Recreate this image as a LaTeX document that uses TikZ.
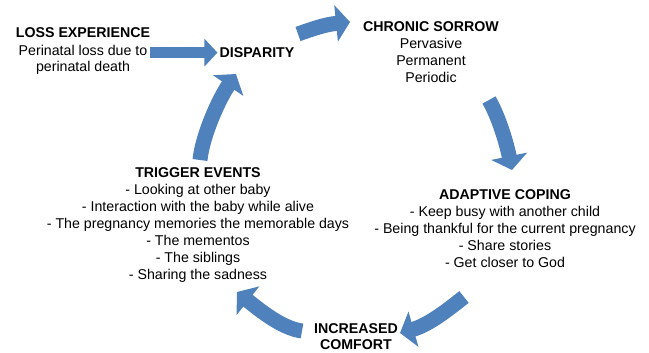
\documentclass[tikz,border=0pt]{standalone}
\usepackage{fontspec}
\setmainfont{Liberation Sans}
\usetikzlibrary{arrows.meta,positioning}
\definecolor{cycleblue}{RGB}{79,129,189}
\tikzset{
  txt/.style={align=center, inner sep=0pt, font=\fontsize{14.2}{17}\selectfont},
  flow/.style={draw=cycleblue, line width=15pt, -{Triangle[width=36pt,length=14pt]}},
}
\begin{document}
\begin{tikzpicture}[x=1pt,y=-1pt]
  \useasboundingbox (0,0) rectangle (649,353);
  \node[txt, anchor=base] (loss) at (83,72) {\textbf{LOSS EXPERIENCE}\\Perinatal loss due to\\perinatal death};
  \node[txt, anchor=base] (disp) at (257,57.5) {\textbf{DISPARITY}};
  \node[txt, anchor=base] (chron) at (431,82.5) {\textbf{CHRONIC SORROW}\\Pervasive\\Permanent\\Periodic};
  \node[txt, anchor=base] (adapt) at (505,267.5) {\textbf{ADAPTIVE COPING}\\- Keep busy with another child\\- Being thankful for the current pregnancy\\- Share stories\\- Get closer to God};
  \node[txt, anchor=base, font=\fontsize{14.2}{16}\selectfont] (comf) at (356,349.5) {\textbf{INCREASED}\\\textbf{COMFORT}};
  \node[txt, anchor=base] (trig) at (198,279.5) {\textbf{TRIGGER EVENTS}\\- Looking at other baby\\- Interaction with the baby while alive\\- The pregnancy memories the memorable days\\- The mementos\\- The siblings\\- Sharing the sadness};

  \coordinate (disp-out) at (298,34);
  \coordinate (chron-in) at (350,22);
  \coordinate (chron-out) at (489,100);
  \coordinate (adapt-in) at (512,170);
  \coordinate (adapt-out) at (464,297);
  \coordinate (comf-in) at (400,333);
  \coordinate (comf-out) at (302,331);
  \coordinate (trig-in) at (237,292);
  \coordinate (trig-out) at (200,160);
  \coordinate (disp-in) at (236,74);

  \draw[flow, line width=11pt, -{Triangle[width=27pt,length=13pt]}, shorten >=2pt]
    (loss.east |- disp.west) -- (disp.west);
  \draw[flow] (disp-out) .. controls (313,28.7) and (325,24.5) .. (chron-in);
  \draw[flow] (chron-out) .. controls (498,115.6) and (506,140.6) .. (adapt-in);
  \draw[flow] (adapt-out) .. controls (448.4,309.4) and (428.8,324.9) .. (comf-in);
  \draw[flow] (comf-out) .. controls (282,328.3) and (260.4,310.6) .. (trig-in);
  \draw[flow] (trig-out) .. controls (202.5,135) and (219,99) .. (disp-in);
\end{tikzpicture}
\end{document}
